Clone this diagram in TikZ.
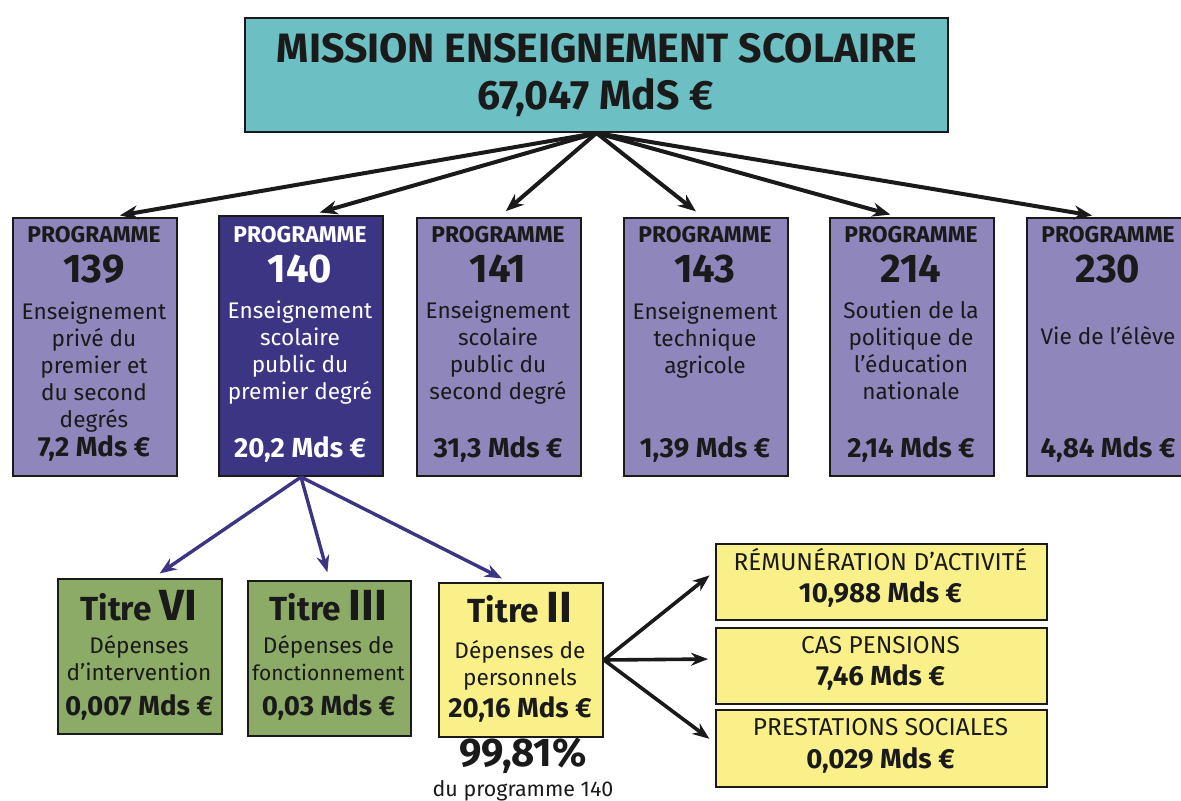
\documentclass[tikz,border=0pt]{standalone}
\usepackage{fontspec}
\setmainfont{Fira Sans}
\usetikzlibrary{arrows.meta, positioning, calc}
\definecolor{MTeal}{HTML}{6CBFC3}
\definecolor{PLilac}{HTML}{8F86BB}
\definecolor{PNavy}{HTML}{3C3584}
\definecolor{TGreen}{HTML}{8CAB67}
\definecolor{TYellow}{HTML}{FAF089}
\definecolor{CInk}{HTML}{1A1A1A}

\tikzset{
  box/.style={draw=CInk, line width=1pt, inner sep=0pt, anchor=north west},
  progbox/.style={box, fill=PLilac, minimum width=82pt, minimum height=129pt},
  titrebox/.style={box, minimum width=82pt, minimum height=77.5pt},
  sharebox/.style={box, fill=TYellow, minimum width=165.5pt, minimum height=38pt},
  proghead/.style={anchor=base, inner sep=0pt, text=CInk, font=\fontsize{11.4pt}{12pt}\selectfont\bfseries},
  prognum/.style={anchor=base, inner sep=0pt, text=CInk, font=\fontsize{20pt}{22pt}\selectfont\bfseries},
  progtext/.style={inner sep=0pt, align=center, text=CInk, font=\fontsize{11.3pt}{13.5pt}\selectfont},
  amount/.style={anchor=base, inner sep=0pt, text=CInk, font=\fontsize{13.8pt}{15pt}\selectfont\bfseries},
  sharetext/.style={anchor=base, inner sep=0pt, text=CInk, font=\fontsize{12.2pt}{14pt}\selectfont},
  titlefont/.style={anchor=base, inner sep=0pt, text=CInk, font=\fontsize{20.5pt}{24pt}\selectfont\bfseries},
  toparrow/.style={-{Stealth[length=9pt, width=7pt]}, line width=2pt, CInk, shorten >=4.5pt},
  bluearrow/.style={-{Stealth[length=8.5pt, width=6.5pt]}, line width=1.7pt, PNavy, shorten >=4pt},
  sharearrow/.style={-{Stealth[length=8.5pt, width=6.5pt]}, line width=1.8pt, CInk, shorten >=3.5pt}
}

\begin{document}
\begin{tikzpicture}[x=0.5pt, y=-0.5pt]
    \useasboundingbox (0,0) rectangle (1181,801);
    \fill[white] (0,0) rectangle (1181,801);

    % Mission
    \node[box, fill=MTeal, minimum width=351.5pt, minimum height=57pt] (mission) at (244,17) {};
    \node[titlefont] (mtitle) at (597,63) {MISSION ENSEIGNEMENT SCOLAIRE};
    \node[titlefont] (mtotal) at (595.5,110) {67,047 MdS €};

    % Programmes
    \node[progbox] (p139) at (12,217) {};
    \node[proghead] at (94,243) {PROGRAMME};
    \node[prognum] at (94,283) {139};
    \node[progtext] at (94,366.6) {Enseignement\\privé du\\premier et\\du second\\degrés};
    \node[amount] at (94,456) {7,2 Mds €};

    \node[progbox, fill=PNavy, minimum height=130pt] (p140) at (218,215) {};
    \node[proghead, text=white] at (300,243) {PROGRAMME};
    \node[prognum, text=white] at (300,283) {140};
    \node[progtext, text=white] at (300,353) {Enseignement\\scolaire\\public du\\premier degré};
    \node[amount, text=white] at (300,457) {20,2 Mds €};

    \node[progbox] (p141) at (416,217) {};
    \node[proghead] at (498,243) {PROGRAMME};
    \node[prognum] at (498,283) {141};
    \node[progtext] at (498,353) {Enseignement\\scolaire\\public du\\second degré};
    \node[amount] at (498,457) {31,3 Mds €};

    \node[progbox] (p143) at (623,217) {};
    \node[proghead] at (705,243) {PROGRAMME};
    \node[prognum] at (705,283) {143};
    \node[progtext] at (705,339.6) {Enseignement\\technique\\agricole};
    \node[amount] at (705,457) {1,39 Mds €};

    \node[progbox] (p214) at (829,217) {};
    \node[proghead] at (911,243) {PROGRAMME};
    \node[prognum] at (911,283) {214};
    \node[progtext] at (911,350.6) {Soutien de la\\politique de\\l’éducation\\nationale};
    \node[amount] at (911,457) {2,14 Mds €};

    \node[progbox] (p230) at (1026,217) {};
    \node[proghead] at (1108,243) {PROGRAMME};
    \node[prognum] at (1108,283) {230};
    \node[progtext, anchor=base] at (1108,345) {Vie de l’élève};
    \node[amount] at (1108,457) {4,84 Mds €};

    % Arrows from the mission
    \draw[toparrow] (mission.south) -- ([xshift=8pt]p139.north);
    \draw[toparrow] (mission.south) -- ([xshift=5pt]p140.north);
    \draw[toparrow] (mission.south) -- (p141.north);
    \draw[toparrow] (mission.south) -- ([xshift=-1.5pt]p143.north);
    \draw[toparrow] (mission.south) -- ([xshift=-6.5pt]p214.north);
    \draw[toparrow] (mission.south) -- ([xshift=-4pt]p230.north);

    % Titres of programme 140
    \node[titrebox, fill=TGreen] (t6) at (57,578) {};
    \node[amount, font=\fontsize{16.7pt}{18pt}\selectfont\bfseries] at (139,620)
        {Titre {\fontsize{21.8pt}{24pt}\selectfont VI}};
    \node[progtext] at (139,658.5) {Dépenses\\d’intervention};
    \node[amount] at (139,715) {0,007 Mds €};

    \node[titrebox, fill=TGreen, minimum width=81.5pt] (t3) at (247,580) {};
    \node[amount, font=\fontsize{16.7pt}{18pt}\selectfont\bfseries] at (328.5,620)
        {Titre {\fontsize{21.8pt}{24pt}\selectfont III}};
    \node[progtext] at (328.5,658.5) {Dépenses de\\{\fontsize{10.5pt}{13.5pt}\selectfont fonctionnement}};
    \node[amount] at (328.5,715) {0,03 Mds €};

    \node[titrebox, fill=TYellow, minimum height=77pt] (t2) at (438,582) {};
    \node[amount, font=\fontsize{16.7pt}{18pt}\selectfont\bfseries] at (520,622)
        {Titre {\fontsize{21.8pt}{24pt}\selectfont II}};
    \node[progtext] at (520,665) {Dépenses de\\personnels};
    \node[amount] at (520,717) {20,16 Mds €};

    \node[amount, font=\fontsize{20pt}{22pt}\selectfont\bfseries] (share) at (523,766) {99,81\%};
    \node[sharetext, font=\fontsize{10.7pt}{12pt}\selectfont] (sharenote) at (523,796) {du programme 140};

    \draw[bluearrow] (p140.south) -- ([xshift=6.5pt]t6.north);
    \draw[bluearrow] (p140.south) -- (t3.north);
    \draw[bluearrow] (p140.south) -- ([xshift=-6pt]t2.north);

    % Titre II breakdown
    \node[sharebox] (rem) at (715,543) {};
    \node[sharetext] at (880.5,570) {RÉMUNÉRATION D’ACTIVITÉ};
    \node[amount] at (880.5,602) {10,988 Mds €};

    \node[sharebox] (cas) at (715,627) {};
    \node[sharetext] at (880.5,653) {CAS PENSIONS};
    \node[amount] at (880.5,685) {7,46 Mds €};

    \node[sharebox, minimum height=38.5pt] (prest) at (715,709) {};
    \node[sharetext] at (880.5,735) {PRESTATIONS SOCIALES};
    \node[amount] at (880.5,768) {0,029 Mds €};

    \draw[sharearrow] (t2.east) -- ([yshift=5.5pt]rem.west);
    \draw[sharearrow] (t2.east) -- ([yshift=3.5pt]cas.west);
    \draw[sharearrow] (t2.east) -- ([yshift=2.75pt]prest.west);

\end{tikzpicture}
\end{document}
